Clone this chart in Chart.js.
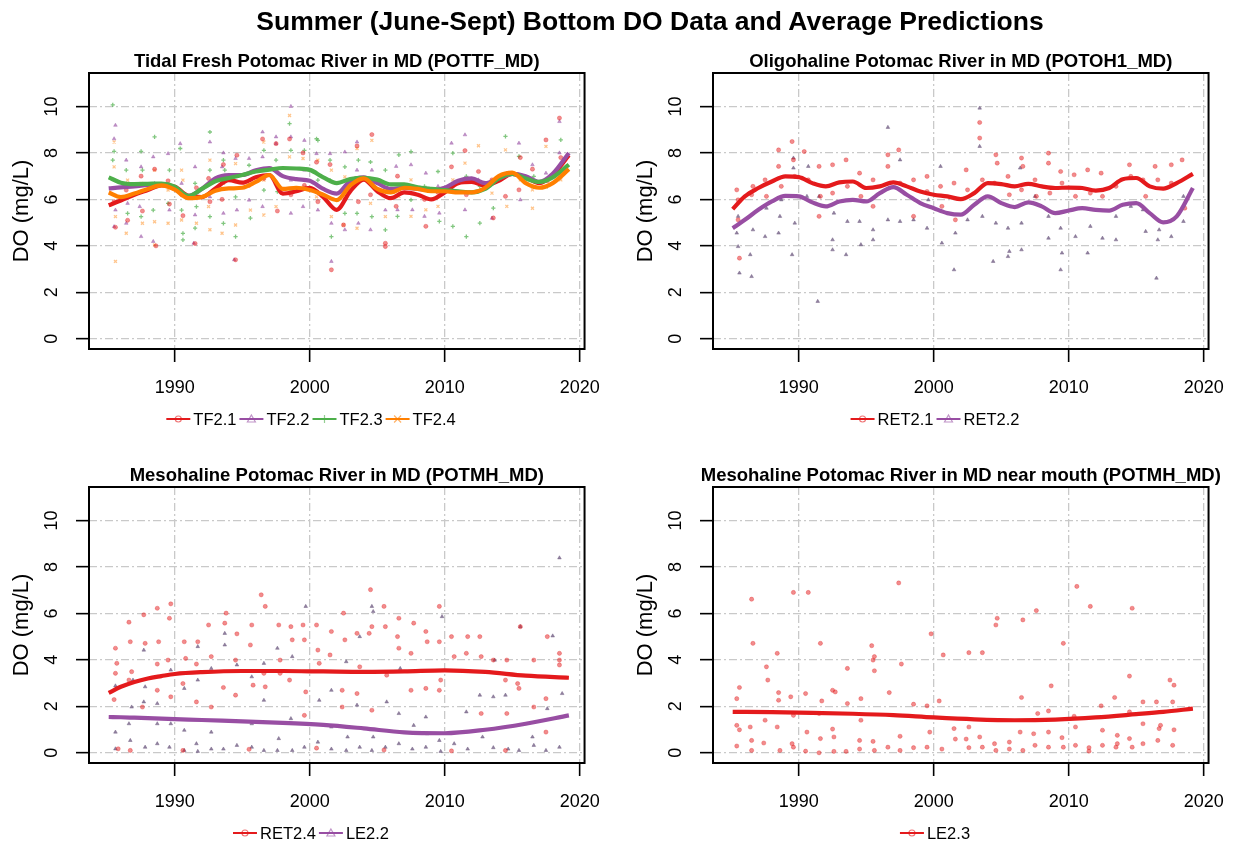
<!DOCTYPE html>
<html>
<head>
<meta charset="utf-8">
<title>Summer Bottom DO</title>
<script src="https://cdn.jsdelivr.net/npm/chart.js@4.4.1/dist/chart.umd.min.js"></script>
<style>
  html, body { margin: 0; padding: 0; background: #fff; width: 1239px; height: 842px; overflow: hidden; }
  .panel { position: absolute; }
  #mainTitle {
    position: absolute; left: 150px; width: 1000px; top: 6px; line-height: 32px; white-space: nowrap;
    text-align: center; font: bold 26.5px "Liberation Sans", Arial, Helvetica, sans-serif; color: #000;
  }
</style>
</head>
<body>
<canvas id="p1" class="panel" width="615" height="430" style="left:0;top:0"></canvas>
<canvas id="p2" class="panel" width="615" height="430" style="left:624px;top:0"></canvas>
<canvas id="p3" class="panel" width="615" height="430" style="left:0;top:414px"></canvas>
<canvas id="p4" class="panel" width="615" height="430" style="left:624px;top:414px"></canvas>
<div id="mainTitle">Summer (June-Sept) Bottom DO Data and Average Predictions</div>
<script>
// ── axes ─────────────────────────────────────────────────────────
const X_TICKS = [1990, 2000, 2010, 2020];
const Y_TICKS = [0, 2, 4, 6, 8, 10];
const X_RANGE = [1983.64, 2020.36];
const Y_RANGE = [-0.44, 11.44];

const RED = '#E41A1C', PURPLE = '#984EA3', GREEN = '#4DAF4A', ORANGE = '#FF7F00';

// ── panel 1 : tidal fresh ────────────────────────────────────────
const P1_FIT_X = [1985.1, 1986, 1987, 1988, 1989, 1990, 1991, 1992, 1993, 1994, 1995, 1996,
  1997, 1998, 1999, 2000, 2001, 2002, 2003, 2004, 2005, 2006, 2007, 2008, 2009, 2010,
  2011, 2012, 2013, 2014, 2015, 2016, 2017, 2018, 2019.2];
const TF21_FIT = [5.75, 5.95, 6.2, 6.4, 6.6, 6.54, 6.15, 6.1, 6.47, 6.83, 6.72, 6.95, 7.05, 6.25,
  6.35, 6.5, 6.1, 5.55, 6.35, 6.85, 6.35, 6.05, 6.3, 6.2, 6.0, 6.3, 6.7, 6.75, 6.6, 6.8, 7.1,
  6.95, 6.7, 7.05, 7.9];
const TF22_FIT = [6.47, 6.52, 6.56, 6.62, 6.66, 6.45, 6.15, 6.45, 6.9, 7.04, 7.05, 7.25, 7.35, 7.0,
  6.87, 6.8, 6.45, 6.25, 6.8, 6.95, 6.7, 6.45, 6.5, 6.45, 6.4, 6.5, 6.8, 6.9, 6.7, 6.9, 7.1,
  7.0, 6.75, 7.1, 8.0];
const TF23_FIT = [6.95, 6.72, 6.66, 6.67, 6.68, 6.55, 6.15, 6.45, 6.78, 6.92, 7.05, 7.2, 7.28, 7.35,
  7.33, 7.27, 6.95, 6.7, 6.88, 6.93, 6.85, 6.65, 6.65, 6.52, 6.45, 6.4, 6.35, 6.3, 6.45, 6.9,
  7.1, 6.9, 6.75, 6.95, 7.5];
const TF24_FIT = [6.3, 6.1, 6.25, 6.45, 6.6, 6.42, 6.05, 6.1, 6.37, 6.47, 6.5, 6.75, 7.05, 6.45,
  6.5, 6.4, 6.2, 5.97, 6.6, 6.9, 6.45, 6.3, 6.5, 6.45, 6.35, 6.35, 6.3, 6.3, 6.5, 7.0, 7.15,
  6.7, 6.5, 6.7, 7.3];

const TF21_PTS = [[1985.5,5.9],[1985.6,4.8],[1986.4,6.4],[1986.5,5.1],[1987.5,7.0],[1987.6,5.5],
  [1988.5,7.3],[1988.6,4.0],[1989.5,6.8],[1989.6,5.8],[1990.5,6.2],[1990.6,5.3],[1991.5,4.1],
  [1991.6,6.5],[1992.5,6.9],[1992.6,5.9],[1993.6,7.5],[1993.5,6.0],[1994.5,3.4],[1994.6,7.9],
  [1995.5,6.6],[1996.5,8.6],[1996.6,6.9],[1997.5,8.4],[1997.6,5.5],[1998.5,8.6],[1998.6,6.2],
  [1999.5,8.0],[1999.6,6.6],[2000.5,7.6],[2000.6,5.9],[2001.6,2.97],[2001.5,7.5],[2002.6,6.0],
  [2002.5,4.9],[2003.5,8.3],[2003.6,5.9],[2004.6,8.79],[2004.5,6.2],[2005.6,4.11],[2005.6,3.97],
  [2006.5,7.0],[2006.4,5.7],[2007.5,6.5],[2008.6,4.84],[2008.5,6.0],[2009.5,6.3],[2010.5,7.4],
  [2011.5,8.1],[2011.6,6.2],[2012.5,7.2],[2013.5,6.84],[2013.6,5.2],[2014.5,6.13],[2015.5,6.41],
  [2015.6,7.8],[2016.5,7.3],[2017.5,8.56],[2017.6,6.8],[2018.5,9.5],[2018.6,7.8]];
const TF22_PTS = [[1985.6,9.19],[1985.5,8.61],[1985.6,5.54],[1985.5,4.83],[1986.4,7.69],[1986.5,5.83],
  [1986.4,4.97],[1987.5,7.4],[1987.4,5.69],[1987.5,4.4],[1988.4,7.83],[1988.5,6.69],[1988.4,4.19],
  [1989.5,7.97],[1989.6,5.54],[1990.4,8.4],[1990.5,6.69],[1991.5,7.4],[1991.5,5.33],[1991.4,4.11],
  [1992.6,8.47],[1992.6,6.11],[1993.6,8.0],[1993.5,7.4],[1993.6,5.4],[1994.5,7.76],[1994.6,5.54],
  [1994.4,3.4],[1995.5,7.76],[1995.5,5.97],[1996.5,8.9],[1996.5,7.83],[1996.5,5.69],[1997.5,8.69],
  [1997.5,8.4],[1997.5,6.69],[1998.6,10.0],[1998.6,8.69],[1998.6,6.83],[1998.6,5.4],[1999.6,8.54],
  [1999.6,7.26],[1999.5,5.69],[2000.5,7.97],[2000.6,5.54],[2001.5,7.97],[2001.6,4.97],[2001.6,3.33],
  [2002.6,8.04],[2002.6,4.69],[2003.5,8.47],[2003.5,7.26],[2003.6,4.97],[2004.6,7.26],[2004.5,4.69],
  [2005.6,5.54],[2006.4,7.42],[2006.5,5.55],[2007.5,7.49],[2007.6,5.55],[2008.6,7.13],[2008.5,5.27],
  [2009.5,6.56],[2009.6,5.41],[2010.5,8.42],[2010.5,6.41],[2011.5,8.78],[2011.5,5.55],[2012.5,6.84],
  [2013.5,5.19],[2014.6,7.13],[2015.5,8.42],[2015.6,5.98],[2016.5,7.49],[2017.5,7.13],[2018.5,9.35],
  [2018.5,8.0]];
const TF23_PTS = [[1985.4,10.07],[1985.5,8.07],[1985.4,7.69],[1986.4,7.26],[1986.5,5.4],[1987.5,8.07],
  [1987.6,7.26],[1987.5,5.26],[1988.5,8.69],[1988.4,5.54],[1989.6,7.26],[1989.5,5.83],[1990.4,8.19],
  [1990.5,5.54],[1990.6,4.54],[1990.6,4.26],[1991.5,6.69],[1991.6,5.69],[1991.5,4.76],[1992.6,8.9],
  [1992.6,7.26],[1992.6,5.26],[1993.6,7.69],[1993.7,7.26],[1993.6,4.97],[1994.5,6.11],[1994.5,4.4],
  [1995.5,7.47],[1995.6,6.83],[1995.6,5.19],[1996.6,8.11],[1996.6,6.4],[1997.5,7.69],[1997.6,6.33],
  [1998.5,9.26],[1998.6,8.11],[1998.6,6.4],[1999.6,8.11],[2000.5,8.61],[2000.6,8.54],[2000.6,6.83],
  [2001.5,7.69],[2001.5,6.83],[2001.6,4.4],[2002.6,7.4],[2002.6,5.4],[2003.6,7.69],[2003.5,5.4],
  [2004.5,7.61],[2004.6,5.26],[2005.6,7.26],[2005.6,4.69],[2006.6,7.92],[2006.5,5.27],[2007.5,8.06],
  [2007.5,5.98],[2008.5,6.56],[2009.5,7.2],[2009.6,5.05],[2010.6,7.99],[2010.6,4.84],[2011.6,6.99],
  [2011.6,4.4],[2012.6,6.56],[2012.6,4.98],[2013.6,5.62],[2014.5,8.71],[2015.5,7.85],[2016.6,6.99],
  [2017.6,6.56],[2018.6,8.56]];
const TF24_PTS = [[1985.5,8.47],[1985.5,7.4],[1985.6,5.26],[1985.6,3.33],[1986.5,6.83],[1986.4,4.54],
  [1987.5,6.69],[1987.6,4.97],[1988.5,7.26],[1988.5,5.04],[1988.5,4.04],[1989.5,6.4],[1989.5,4.97],
  [1990.5,7.26],[1990.6,6.83],[1990.5,5.11],[1991.4,6.11],[1991.6,4.97],[1992.6,7.69],[1992.5,5.69],
  [1992.6,4.69],[1993.6,6.69],[1993.5,4.54],[1994.5,7.54],[1994.5,4.9],[1995.5,7.11],[1995.6,5.54],
  [1996.6,8.47],[1996.6,6.83],[1996.6,5.33],[1997.6,7.26],[1997.5,5.69],[1998.5,9.61],[1998.5,7.83],
  [1999.5,7.76],[1999.6,6.54],[2000.6,7.69],[2000.5,6.11],[2001.6,7.26],[2001.6,5.26],[2002.6,6.97],
  [2002.5,4.9],[2003.5,8.19],[2003.5,4.76],[2004.6,8.54],[2004.5,5.83],[2005.6,5.26],[2006.6,6.13],
  [2007.5,6.84],[2007.5,5.27],[2008.6,5.55],[2009.5,5.7],[2010.6,6.84],[2011.5,7.56],[2012.5,8.31],
  [2013.5,6.27],[2014.5,8.13],[2014.6,5.7],[2015.6,6.84],[2016.5,6.41],[2016.5,5.62],[2017.5,8.28],
  [2018.6,6.84]];

// ── panel 2 : oligohaline ────────────────────────────────────────
const P2_FIT_X = P1_FIT_X;
const RET21_FIT = [5.58, 6.13, 6.49, 6.77, 6.99, 6.96, 6.7, 6.56, 6.73, 6.77, 6.49, 6.56, 6.73, 6.56,
  6.34, 6.2, 6.13, 6.01, 6.27, 6.7, 6.66, 6.56, 6.67, 6.56, 6.49, 6.51, 6.49, 6.38, 6.49, 6.87,
  6.92, 6.56, 6.46, 6.7, 7.1];
const RET22_FIT = [4.76, 5.12, 5.55, 5.91, 6.15, 6.13, 5.87, 5.7, 5.91, 5.98, 5.91, 6.27, 6.53, 6.2,
  5.84, 5.62, 5.41, 5.34, 5.77, 6.13, 5.84, 5.67, 5.87, 5.7, 5.41, 5.52, 5.62, 5.55, 5.52, 5.77,
  5.84, 5.41, 5.01, 5.27, 6.49];
const RET21_PTS = [[1985.4,6.41],[1985.5,5.98],[1985.5,5.12],[1985.6,3.47],[1986.5,6.2],[1986.6,6.56],
  [1987.5,6.84],[1987.6,6.13],[1988.5,8.13],[1988.5,7.42],[1988.7,6.56],[1989.5,8.49],[1989.6,7.7],
  [1989.7,6.99],[1990.4,8.06],[1990.7,6.84],[1991.5,7.42],[1991.6,6.13],[1991.5,5.27],[1992.5,7.49],
  [1992.5,6.27],[1993.5,7.7],[1993.6,6.56],[1994.5,7.13],[1994.6,6.13],[1995.5,6.84],[1995.5,5.7],
  [1996.6,7.42],[1996.6,7.92],[1997.4,8.13],[1997.5,6.7],[1998.5,6.84],[1998.5,5.27],[1999.5,6.99],
  [1999.5,6.34],[2000.5,6.56],[2000.6,5.7],[2001.5,6.7],[2001.6,5.12],[2002.4,7.27],[2002.5,6.41],
  [2003.4,9.31],[2003.4,8.64],[2003.6,6.84],[2004.6,7.92],[2004.7,7.56],[2004.5,6.7],[2005.5,6.99],
  [2005.6,6.2],[2006.5,7.78],[2006.6,7.42],[2006.5,6.41],[2007.5,6.84],[2007.6,6.13],[2008.5,7.99],
  [2008.5,7.56],[2008.6,6.27],[2009.4,7.2],[2009.5,6.7],[2010.4,7.06],[2010.5,6.13],[2011.4,7.27],
  [2011.6,6.27],[2012.4,7.13],[2012.5,6.13],[2013.5,6.56],[2014.5,7.49],[2014.6,6.99],[2015.5,6.84],
  [2015.7,6.13],[2016.4,7.42],[2016.6,6.84],[2017.6,7.49],[2017.6,6.7],[2018.4,7.7],[2018.6,5.62]];
const RET22_PTS = [[1985.4,4.55],[1985.5,3.97],[1985.6,2.83],[1985.5,5.27],[1986.5,2.68],[1986.4,3.62],
  [1986.6,4.69],[1987.5,4.4],[1987.6,5.62],[1988.5,4.55],[1988.6,5.27],[1988.7,5.98],[1989.5,3.62],
  [1989.6,7.78],[1989.6,7.35],[1989.7,4.98],[1990.7,7.42],[1990.6,6.13],[1991.5,6.13],[1991.4,1.61],
  [1992.5,4.26],[1992.5,3.83],[1992.6,5.41],[1993.5,3.62],[1993.6,5.05],[1994.6,4.05],[1994.5,5.05],
  [1995.5,4.69],[1995.5,4.26],[1996.6,9.1],[1996.6,5.12],[1997.5,7.7],[1997.5,5.05],[1998.5,5.12],
  [1999.5,4.76],[1999.6,5.98],[2000.5,7.42],[2000.6,4.12],[2001.5,2.97],[2001.6,4.55],[2002.5,5.12],
  [2003.4,9.93],[2003.4,8.28],[2003.6,5.27],[2004.4,3.33],[2004.6,4.98],[2005.5,3.54],[2005.6,3.76],
  [2005.5,4.76],[2006.5,3.83],[2006.5,4.98],[2006.4,7.35],[2007.5,6.13],[2008.5,4.33],[2008.5,5.27],
  [2009.4,2.97],[2009.5,3.69],[2009.4,4.76],[2010.5,4.4],[2011.4,3.69],[2011.6,4.84],[2012.5,4.33],
  [2013.5,4.26],[2013.5,5.27],[2014.6,5.7],[2015.5,5.55],[2015.7,4.62],[2016.5,2.61],[2016.6,4.26],
  [2016.7,4.69],[2017.6,4.4],[2018.5,6.13],[2018.5,5.05]];

// ── panel 3 : mesohaline ─────────────────────────────────────────
const P3_FIT_X = [1985.1, 1986, 1987, 1988, 1989, 1990, 1992, 1995, 1998, 2001, 2004, 2007, 2010,
  2013, 2016, 2019.2];
const RET24_FIT = [2.58, 2.84, 3.05, 3.2, 3.3, 3.39, 3.47, 3.52, 3.52, 3.5, 3.48, 3.5, 3.55, 3.48, 3.32, 3.23];
const LE22_FIT = [1.54, 1.53, 1.51, 1.49, 1.47, 1.45, 1.41, 1.35, 1.29, 1.2, 1.05, 0.88, 0.84, 0.99, 1.25, 1.61];
const RET24_PTS = [[1985.6,4.5],[1985.7,3.85],[1985.6,3.42],[1985.5,2.29],[1985.8,0.17],[1986.6,5.62],
  [1986.7,4.78],[1986.8,3.49],[1986.6,3.13],[1986.7,0.1],[1987.7,5.94],[1987.8,4.71],[1987.6,1.97],
  [1988.7,6.22],[1988.8,4.78],[1988.7,3.82],[1988.7,2.69],[1989.7,6.41],[1989.6,5.79],[1989.5,3.99],
  [1989.7,2.41],[1990.7,4.78],[1990.8,4.06],[1990.6,2.98],[1990.6,0.1],[1991.7,4.78],[1991.6,3.82],
  [1991.6,2.19],[1992.5,5.5],[1992.7,4.14],[1992.7,1.97],[1993.8,6.01],[1993.7,5.58],[1993.6,2.81],
  [1994.6,5.12],[1994.5,3.99],[1994.5,2.48],[1995.7,5.5],[1995.6,4.64],[1995.8,2.91],[1995.5,0.15],
  [1996.4,6.8],[1996.7,6.3],[1996.6,3.42],[1996.7,2.84],[1997.7,5.5],[1997.8,3.99],[1997.8,3.42],
  [1998.6,5.43],[1998.7,4.86],[1998.5,3.13],[1999.5,5.5],[1999.6,4.86],[1999.7,2.62],[1999.6,1.61],
  [2000.5,5.5],[2000.6,4.42],[2000.7,3.85],[2000.5,0.2],[2001.6,5.22],[2001.5,4.21],[2002.5,6.01],
  [2002.6,4.86],[2002.4,2.69],[2002.4,1.97],[2003.5,5.14],[2003.7,3.7],[2003.5,2.55],[2004.5,7.02],
  [2004.4,5.14],[2004.6,5.43],[2004.6,1.83],[2005.5,6.3],[2005.6,5.43],[2005.7,3.34],[2005.5,0.12],
  [2006.6,5.79],[2006.5,5.0],[2006.6,4.5],[2007.7,5.58],[2007.5,4.28],[2007.5,2.69],[2008.6,5.22],
  [2008.7,4.78],[2008.6,2.77],[2009.6,6.3],[2009.6,4.78],[2009.7,3.13],[2009.6,2.69],[2010.5,5.0],
  [2010.7,4.14],[2010.5,0.08],[2011.7,5.0],[2011.6,4.28],[2012.6,5.0],[2012.7,4.14],[2012.7,1.69],
  [2013.6,3.99],[2014.6,3.99],[2014.5,3.13],[2014.6,1.69],[2014.5,0.1],[2015.6,5.43],[2015.4,2.98],
  [2015.5,2.77],[2016.6,3.99],[2016.6,1.97],[2017.6,5.0],[2017.5,2.33],[2017.5,0.89],[2018.5,4.28],
  [2018.5,3.99],[2018.5,3.78]];
const LE22_PTS = [[1985.6,0.89],[1985.6,2.88],[1985.6,0.17],[1986.6,1.25],[1986.8,1.97],[1986.7,0.53],
  [1986.9,3.13],[1987.7,4.42],[1987.8,2.84],[1987.7,2.19],[1987.8,0.24],[1988.7,1.25],[1988.7,0.39],
  [1988.7,2.12],[1989.7,3.56],[1989.7,1.25],[1989.6,0.24],[1990.7,2.77],[1990.7,0.97],[1990.7,0.1],
  [1991.7,4.57],[1991.7,3.13],[1991.6,0.39],[1991.7,0.06],[1992.7,3.63],[1992.7,0.89],[1992.7,0.16],
  [1993.7,5.14],[1993.7,4.64],[1993.6,0.16],[1994.6,3.78],[1994.6,0.32],[1995.7,1.25],[1995.7,3.27],
  [1995.7,0.24],[1996.6,3.85],[1996.6,2.26],[1996.6,0.1],[1997.6,4.5],[1997.7,0.61],[1997.6,0.1],
  [1998.7,4.14],[1998.6,1.47],[1998.7,0.1],[1999.7,6.3],[1999.6,0.24],[2000.7,2.26],[2000.6,0.46],
  [2001.6,2.69],[2001.6,1.11],[2001.6,0.16],[2002.7,3.92],[2002.8,0.68],[2002.7,0.1],[2003.7,5.0],
  [2003.5,2.05],[2003.7,0.24],[2004.7,6.08],[2004.6,6.3],[2004.7,0.68],[2004.6,0.1],[2005.7,2.19],
  [2005.6,0.24],[2006.7,3.63],[2006.6,1.69],[2006.6,0.39],[2007.7,1.18],[2007.6,0.16],[2008.6,1.54],
  [2008.7,0.82],[2008.6,0.24],[2009.8,5.86],[2009.6,0.53],[2009.7,0.06],[2010.7,0.39],[2011.6,1.76],
  [2011.7,0.16],[2012.6,2.48],[2012.8,0.68],[2013.6,2.41],[2013.7,3.99],[2013.6,0.22],[2014.5,2.48],
  [2014.7,0.16],[2015.6,5.43],[2015.5,0.1],[2016.5,0.68],[2016.6,0.32],[2017.6,1.9],[2017.5,0.1],
  [2018.5,8.39],[2018.7,2.55],[2018.5,0.24],[2018.0,5.03]];

// ── panel 4 : mesohaline near mouth ──────────────────────────────
const P4_FIT_X = [1985.1, 1988, 1991, 1994, 1997, 2000, 2003, 2006, 2009, 2012, 2015, 2017, 2019.2];
const LE23_FIT = [1.76, 1.75, 1.72, 1.68, 1.62, 1.52, 1.44, 1.4, 1.43, 1.52, 1.66, 1.76, 1.9];
const LE23_PTS = [[1985.4,2.33],[1985.6,2.81],[1985.4,1.18],[1985.6,0.99],[1985.4,0.29],[1986.5,6.61],
  [1986.6,4.71],[1986.4,1.11],[1986.5,0.53],[1986.5,0.1],[1987.6,3.7],[1987.7,3.13],[1987.5,1.4],
  [1987.4,0.42],[1988.4,4.28],[1988.5,2.59],[1988.5,2.26],[1988.4,1.11],[1988.6,0.1],[1989.4,2.41],
  [1989.6,6.9],[1989.6,1.61],[1989.5,0.39],[1989.6,0.24],[1990.5,2.55],[1990.7,6.9],[1990.6,0.89],
  [1990.5,0.07],[1991.6,4.71],[1991.7,2.23],[1991.5,1.69],[1991.6,0.61],[1991.5,0.0],[1992.5,2.69],
  [1992.7,2.62],[1992.5,1.02],[1992.6,0.68],[1992.6,0.06],[1993.6,3.63],[1993.6,2.12],[1993.5,0.06],
  [1994.6,2.33],[1994.6,1.4],[1994.5,0.53],[1994.5,0.16],[1995.4,4.61],[1995.5,3.99],[1995.6,3.53],
  [1995.6,4.14],[1995.5,0.49],[1995.6,0.1],[1996.7,2.59],[1996.6,0.24],[1997.4,7.31],[1997.6,3.82],
  [1997.5,0.71],[1997.5,0.1],[1998.5,2.09],[1998.5,0.22],[1999.5,2.02],[1999.7,0.89],[1999.8,5.12],
  [1999.5,0.24],[2000.4,2.23],[2000.7,4.21],[2000.6,0.16],[2001.5,1.04],[2001.6,0.59],[2002.6,4.31],
  [2002.6,1.11],[2002.4,0.59],[2002.6,0.22],[2003.6,4.31],[2003.4,0.68],[2003.6,0.24],[2004.6,5.5],
  [2004.7,5.79],[2004.5,0.39],[2004.6,0.1],[2005.6,0.46],[2005.6,0.16],[2006.5,2.38],[2006.6,5.72],
  [2006.4,0.89],[2006.6,0.1],[2007.4,0.82],[2007.6,6.12],[2007.5,0.32],[2007.7,1.69],[2008.5,1.8],
  [2008.7,2.88],[2008.5,0.89],[2008.5,0.24],[2009.6,4.71],[2009.5,0.65],[2009.6,0.24],[2010.6,7.16],
  [2010.4,1.57],[2010.5,1.11],[2010.5,0.32],[2011.6,6.3],[2011.5,0.22],[2011.5,0.07],[2012.4,2.02],
  [2012.5,0.97],[2012.5,0.32],[2013.4,2.38],[2013.6,0.75],[2013.6,0.39],[2013.5,0.24],[2014.7,6.22],
  [2014.5,3.3],[2014.5,1.76],[2014.5,0.61],[2014.7,0.24],[2015.5,2.19],[2015.5,1.25],[2015.5,0.39],
  [2016.5,2.19],[2016.7,1.04],[2016.6,0.53],[2017.5,3.13],[2017.8,2.91],[2016.8,1.18],[2017.7,2.19],
  [2017.8,0.99],[2017.7,0.32]];

// ── helpers ──────────────────────────────────────────────────────
Chart.defaults.font.family = '"Liberation Sans", Arial, Helvetica, sans-serif';
Chart.defaults.color = '#000';

const FONT = '"Liberation Sans", Arial, Helvetica, sans-serif';

function alpha(hex, a) {
    const n = parseInt(hex.slice(1), 16);
    return `rgba(${(n >> 16) & 255}, ${(n >> 8) & 255}, ${n & 255}, ${a})`;
}

function fitSet(label, xs, ys, color, order) {
    return {
        label, order,
        data: xs.map((x, i) => ({ x, y: ys[i] })),
        borderColor: color, borderWidth: 4.2,
        pointRadius: 0, fill: false,
        cubicInterpolationMode: 'monotone'
    };
}

function ptsSet(label, pts, color, style, a) {
    return {
        label, order: 20,
        data: pts.map(p => ({ x: p[0], y: p[1] })),
        showLine: false,
        pointStyle: style, pointRadius: 2.1,
        pointBackgroundColor: alpha(color, a),
        pointBorderColor: alpha(color, a),
        pointBorderWidth: style === 'cross' || style === 'crossRot' ? 1.3 : 0.6
    };
}

function drawMarker(ctx, style, x, y, color) {
    ctx.save();
    ctx.strokeStyle = color;
    ctx.lineWidth = 1.2;
    ctx.beginPath();
    if (style === 'circle') {
        ctx.arc(x, y, 3, 0, Math.PI * 2);
    } else if (style === 'triangle') {
        ctx.moveTo(x, y - 4); ctx.lineTo(x + 4, y + 3); ctx.lineTo(x - 4, y + 3); ctx.closePath();
    } else if (style === 'cross') {
        ctx.moveTo(x - 4, y); ctx.lineTo(x + 4, y); ctx.moveTo(x, y - 4); ctx.lineTo(x, y + 4);
    } else {
        ctx.moveTo(x - 3.5, y - 3.5); ctx.lineTo(x + 3.5, y + 3.5);
        ctx.moveTo(x + 3.5, y - 3.5); ctx.lineTo(x - 3.5, y + 3.5);
    }
    ctx.stroke();
    ctx.restore();
}

// frame, rotated y labels, panel title and the R-style legend
const decor = {
    id: 'decor',
    afterDraw(chart, args, opts) {
        const { ctx, chartArea: ca } = chart;
        ctx.save();
        ctx.strokeStyle = '#000';
        ctx.lineWidth = 2;
        ctx.strokeRect(ca.left, ca.top, ca.right - ca.left, ca.bottom - ca.top);

        const ys = chart.scales.y;
        ctx.fillStyle = '#000';
        ctx.font = `18px ${FONT}`;
        ctx.textAlign = 'center';
        ctx.textBaseline = 'middle';
        Y_TICKS.forEach(v => {
            ctx.save();
            ctx.translate(51, ys.getPixelForValue(v));
            ctx.rotate(-Math.PI / 2);
            ctx.fillText(String(v), 0, 1);
            ctx.restore();
        });

        ctx.font = `bold 18.5px ${FONT}`;
        ctx.fillText(opts.title, (ca.left + ca.right) / 2, 62);

        ctx.font = `16.5px ${FONT}`;
        const LINE = 24, GAP = 3, SEP = 3;
        const widths = opts.legend.map(it => ctx.measureText(it.label).width);
        let total = widths.reduce((s, w) => s + LINE + GAP + w + SEP, 0) - SEP;
        let x = 311 - total / 2;
        const y = 419;
        opts.legend.forEach((it, i) => {
            ctx.strokeStyle = it.color;
            ctx.lineWidth = 2;
            ctx.beginPath();
            ctx.moveTo(x, y); ctx.lineTo(x + LINE, y);
            ctx.stroke();
            drawMarker(ctx, it.style, x + LINE / 2, y, alpha(it.color, 0.6));
            ctx.fillStyle = '#000';
            ctx.textAlign = 'left';
            ctx.fillText(it.label, x + LINE + GAP, y + 1);
            x += LINE + GAP + widths[i] + SEP;
        });
        ctx.restore();
    }
};

function makePanel(id, title, datasets, legend) {
    new Chart(document.getElementById(id), {
        type: 'line',
        data: { datasets },
        plugins: [decor],
        options: {
            responsive: false,
            animation: false,
            events: [],
            layout: { padding: { top: 73, right: 29, bottom: 0, left: 0 } },
            plugins: {
                legend: { display: false },
                tooltip: { enabled: false },
                decor: { title, legend }
            },
            scales: {
                x: {
                    type: 'linear',
                    min: X_RANGE[0], max: X_RANGE[1],
                    afterBuildTicks: s => { s.ticks = X_TICKS.map(v => ({ value: v })); },
                    afterFit: s => { s.height = 81; },
                    ticks: {
                        font: { size: 18 }, color: '#000', padding: 15, maxRotation: 0, autoSkip: false,
                        callback: v => String(v)
                    },
                    grid: { color: '#c9c9c9', lineWidth: 1.3, tickColor: '#000', tickLength: 13, tickWidth: 1.6, tickBorderDash: [] },
                    border: { display: false, dash: [8, 3, 2, 3] }
                },
                y: {
                    type: 'linear',
                    min: Y_RANGE[0], max: Y_RANGE[1],
                    afterBuildTicks: s => { s.ticks = Y_TICKS.map(v => ({ value: v })); },
                    afterFit: s => { s.width = 89; },
                    ticks: { display: false },
                    title: { display: true, text: 'DO (mg/L)', font: { size: 22 }, color: '#000', padding: { top: 9, bottom: 0 } },
                    grid: { color: '#c9c9c9', lineWidth: 1.3, tickColor: '#000', tickLength: 13, tickWidth: 1.6, tickBorderDash: [] },
                    border: { display: false, dash: [8, 3, 2, 3] }
                }
            }
        }
    });
}

// ── build ────────────────────────────────────────────────────────
makePanel('p1', 'Tidal Fresh Potomac River in MD (POTTF_MD)', [
    fitSet('TF2.4', P1_FIT_X, TF24_FIT, ORANGE, 0),
    fitSet('TF2.3', P1_FIT_X, TF23_FIT, GREEN, 1),
    fitSet('TF2.2', P1_FIT_X, TF22_FIT, PURPLE, 2),
    fitSet('TF2.1', P1_FIT_X, TF21_FIT, RED, 3),
    ptsSet('TF2.1 obs', TF21_PTS, RED, 'circle', 0.5),
    ptsSet('TF2.2 obs', TF22_PTS, PURPLE, 'triangle', 0.6),
    ptsSet('TF2.3 obs', TF23_PTS, GREEN, 'cross', 0.7),
    ptsSet('TF2.4 obs', TF24_PTS, ORANGE, 'crossRot', 0.45)
], [
    { label: 'TF2.1', color: RED, style: 'circle' },
    { label: 'TF2.2', color: PURPLE, style: 'triangle' },
    { label: 'TF2.3', color: GREEN, style: 'cross' },
    { label: 'TF2.4', color: ORANGE, style: 'crossRot' }
]);

makePanel('p2', 'Oligohaline Potomac River in MD (POTOH1_MD)', [
    fitSet('RET2.2', P2_FIT_X, RET22_FIT, PURPLE, 0),
    fitSet('RET2.1', P2_FIT_X, RET21_FIT, RED, 1),
    ptsSet('RET2.1 obs', RET21_PTS, RED, 'circle', 0.5),
    ptsSet('RET2.2 obs', RET22_PTS, '#6E5A80', 'triangle', 0.75)
], [
    { label: 'RET2.1', color: RED, style: 'circle' },
    { label: 'RET2.2', color: PURPLE, style: 'triangle' }
]);

makePanel('p3', 'Mesohaline Potomac River in MD (POTMH_MD)', [
    fitSet('LE2.2', P3_FIT_X, LE22_FIT, PURPLE, 0),
    fitSet('RET2.4', P3_FIT_X, RET24_FIT, RED, 1),
    ptsSet('RET2.4 obs', RET24_PTS, RED, 'circle', 0.5),
    ptsSet('LE2.2 obs', LE22_PTS, '#6E5A80', 'triangle', 0.75)
], [
    { label: 'RET2.4', color: RED, style: 'circle' },
    { label: 'LE2.2', color: PURPLE, style: 'triangle' }
]);

makePanel('p4', 'Mesohaline Potomac River in MD near mouth (POTMH_MD)', [
    fitSet('LE2.3', P4_FIT_X, LE23_FIT, RED, 0),
    ptsSet('LE2.3 obs', LE23_PTS, RED, 'circle', 0.5)
], [
    { label: 'LE2.3', color: RED, style: 'circle' }
]);
</script>
</body>
</html>
